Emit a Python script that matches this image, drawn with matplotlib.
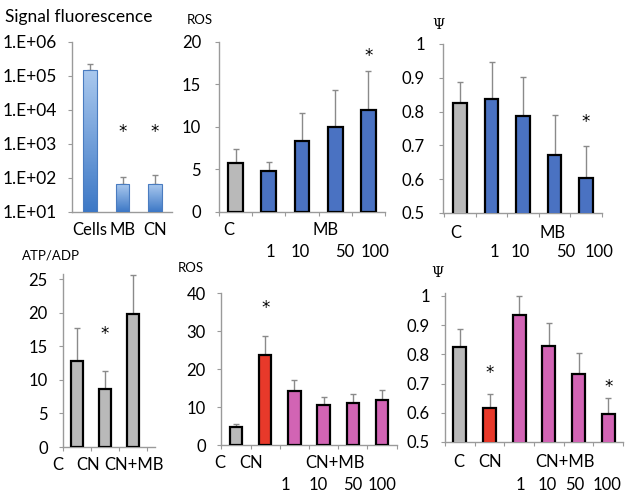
import matplotlib
matplotlib.use("Agg")
import matplotlib.pyplot as plt
import numpy as np
from matplotlib.transforms import blended_transform_factory
from matplotlib.colors import LinearSegmentedColormap

plt.rcParams['font.family'] = ['Lato', 'DejaVu Sans']

# ---------------- data ----------------
p1_cats = ["Cells", "MB", "CN"]
p1_vals = [1.5e5, 65, 65]
p1_err_top = [2.2e5, 110, 120]
p1_star = [None, 2200, 2200]
p1_yticks = [1e1, 1e2, 1e3, 1e4, 1e5, 1e6]
p1_yticklabels = ["1.E+01", "1.E+02", "1.E+03", "1.E+04", "1.E+05", "1.E+06"]

p2_vals = [5.8, 4.8, 8.3, 10.0, 12.0]
p2_err_top = [7.4, 5.9, 11.7, 14.3, 16.6]
p2_star = [None, None, None, None, 18.3]
p2_yticks = [0, 5, 10, 15, 20]

p3_vals = [0.825, 0.838, 0.786, 0.672, 0.604]
p3_err_top = [0.887, 0.948, 0.903, 0.789, 0.697]
p3_star = [None, None, None, None, 0.77]
p3_yticks = [0.5, 0.6, 0.7, 0.8, 0.9, 1.0]
p3_yticklabels = ["0.5", "0.6", "0.7", "0.8", "0.9", "1"]

top_group_labels = ["C", "MB"]
dose_labels = ["1", "10", "50", "100"]

p4_cats = ["C", "CN", "CN+MB"]
p4_vals = [12.8, 8.7, 19.8]
p4_err_top = [17.8, 11.4, 25.6]
p4_star = [None, 16.8, None]
p4_yticks = [0, 5, 10, 15, 20, 25]

p5_vals = [4.7, 23.7, 14.1, 10.5, 11.1, 11.9]
p5_err_top = [5.6, 28.7, 17.1, 12.7, 13.4, 14.4]
p5_star = [None, 36.0, None, None, None, None]
p5_yticks = [0, 10, 20, 30, 40]

p6_vals = [0.826, 0.615, 0.935, 0.829, 0.732, 0.596]
p6_err_top = [0.887, 0.665, 1.0, 0.909, 0.805, 0.652]
p6_star = [None, 0.736, None, None, None, 0.688]
p6_yticks = [0.5, 0.6, 0.7, 0.8, 0.9, 1.0]
p6_yticklabels = ["0.5", "0.6", "0.7", "0.8", "0.9", "1"]

bottom_group_labels = ["C", "CN", "CN+MB"]

# ---------------- style ----------------
W, H = 635, 500
GRAY = "#b9b9b9"
BLUE = "#4a72c2"
PINK = "#d264b4"
RED = "#e8392a"
AXC = "#9a9a9a"
ERRC = "#8a8a8a"
STAR = 12

fig = plt.figure(figsize=(W / 100, H / 100), dpi=100)


def star(ax, x, y):
    ax.text(x, y, "*", ha="center", va="center", fontsize=STAR, family="DejaVu Sans")


def make_ax(left, right, top, bottom):
    ax = fig.add_axes([left / W, 1 - bottom / H, (right - left) / W, (bottom - top) / H])
    for s in ["top", "right"]:
        ax.spines[s].set_visible(False)
    for s in ["left", "bottom"]:
        ax.spines[s].set_color(AXC)
        ax.spines[s].set_linewidth(1.0)
    ax.tick_params(axis="y", colors=AXC, labelcolor="black", length=3, width=0.8,
                   labelsize=11.5, pad=8)
    ax.tick_params(axis="x", colors=AXC, length=3, width=0.8, labelsize=11.5,
                   labelcolor="black", direction="out")
    ax.patch.set_alpha(0)
    return ax


def set_x(ax, n, x0, x1, c0, s):
    ax.set_xlim((x0 - c0) / s, (x1 - c0) / s)
    ax.set_xticks(np.arange(n + 1) - 0.5)
    ax.set_xticklabels([])


def draw(ax, vals, errs, colors, width, stars, ylim):
    x = np.arange(len(vals))
    ax.bar(x, vals, width=width, color=colors, edgecolor="black", linewidth=1.6, zorder=3)
    lo = np.zeros(len(vals))
    up = np.array(errs) - np.array(vals)
    ax.errorbar(x, vals, yerr=[lo, up], fmt="none", ecolor=ERRC, elinewidth=1.0,
                capsize=2.5, capthick=1.0, zorder=2)
    for xi, st in zip(x, stars):
        if st is not None:
            star(ax, xi, st)
    ax.set_ylim(*ylim)


def under(ax, xs, ypix, labels, size=11.5):
    tr = blended_transform_factory(ax.transData, fig.transFigure)
    for xv, lab in zip(xs, labels):
        ax.text(xv, 1 - ypix / H, lab, transform=tr, ha="center", va="center",
                fontsize=size, clip_on=False)


# ---------------- panel 1 ----------------
ax1 = make_ax(72, 172, 42, 212)
ax1.set_yscale("log")
ax1.set_ylim(10, 1e6)
n1 = len(p1_vals)
xl1 = ((72 - 90) / 32.5, (172 - 90) / 32.5)
ax1.set_xlim(*xl1)
ax1.set_xticks([])
x1 = np.arange(n1)
bars = ax1.bar(x1, p1_vals, width=0.43, color="none", edgecolor="#4a7cc0",
               linewidth=0.8, zorder=4)
grad = np.linspace(0, 1, 100).reshape(-1, 1)
cmap = LinearSegmentedColormap.from_list("bl", ["#3d78c6", "#a9c8ee"])
fig.canvas.draw()
to_axes = ax1.transData + ax1.transAxes.inverted()
for b, v in zip(bars, p1_vals):
    xl = b.get_x()
    xr = xl + b.get_width()
    (axl, ayb) = to_axes.transform((xl, 10))
    (axr, ayt) = to_axes.transform((xr, v))
    im = ax1.imshow(grad, cmap=cmap, extent=[axl, axr, 0, ayt], origin="lower",
                    transform=ax1.transAxes, aspect="auto", zorder=3)
    im.set_clip_path(b)
ax1.set_xlim(*xl1)
ax1.set_ylim(10, 1e6)
ax1.errorbar(x1, p1_vals, yerr=[np.zeros(n1), np.array(p1_err_top) - np.array(p1_vals)],
             fmt="none", ecolor=ERRC, elinewidth=1.0, capsize=2.5, capthick=1.0, zorder=2)
for xi, st in zip(x1, p1_star):
    if st is not None:
        star(ax1, xi, st)
ax1.set_yticks(p1_yticks)
ax1.set_yticklabels(p1_yticklabels)
ax1.tick_params(axis="y", which="minor", colors=AXC, length=2, width=0.6)
ax1.tick_params(axis="y", labelsize=12.5, pad=8)
under(ax1, x1, 230, p1_cats, size=12)
fig.text(5 / W, 1 - 17 / H, "Signal fluorescence", fontsize=12.5, va="center", ha="left")

# ---------------- panel 2 ----------------
ax2 = make_ax(219, 385, 42, 212)
set_x(ax2, 5, 219, 385, 236, 34)
draw(ax2, p2_vals, p2_err_top, [GRAY] + [BLUE] * 4, 0.44, p2_star, (0, 20))
ax2.set_yticks(p2_yticks)
ax2.tick_params(axis="y", labelsize=12, pad=10)
under(ax2, [-0.2], 230, top_group_labels[:1], size=12)
under(ax2, [2.7], 230, top_group_labels[1:], size=12)
under(ax2, [1.05, 1.95, 3.3, 4.2], 252, dose_labels, size=12)
fig.text(187 / W, 1 - 20 / H, "ROS", fontsize=9.5, va="center", ha="left")

# ---------------- panel 3 ----------------
ax3 = make_ax(443, 602, 44, 213)
set_x(ax3, 5, 443, 602, 460, 31.5)
draw(ax3, p3_vals, p3_err_top, [GRAY] + [BLUE] * 4, 0.44, p3_star, (0.5, 1.0))
ax3.set_yticks(p3_yticks)
ax3.set_yticklabels(p3_yticklabels)
ax3.tick_params(axis="y", labelsize=12, pad=10)
under(ax3, [-0.15], 233, top_group_labels[:1], size=12)
under(ax3, [2.95], 233, top_group_labels[1:], size=12)
under(ax3, [1.1, 1.9, 3.35, 4.4], 252, dose_labels, size=12)
fig.text(438 / W, 1 - 25 / H, "Ψ", fontsize=10, va="center", ha="center",
         family="DejaVu Serif")

# ---------------- panel 4 ----------------
ax4 = make_ax(63, 155, 274, 447)
set_x(ax4, 3, 63, 155, 77, 28)
draw(ax4, p4_vals, p4_err_top, [GRAY] * 3, 0.43, p4_star, (0, 25.8))
ax4.set_yticks(p4_yticks)
ax4.tick_params(axis="y", labelsize=12, pad=8)
under(ax4, [-0.7, 0.4, 2.05], 465, p4_cats, size=12)
fig.text(22 / W, 1 - 256 / H, "ATP/ADP", fontsize=9.5, va="center", ha="left")

# ---------------- panel 5 ----------------
ax5 = make_ax(221, 397, 293, 445)
set_x(ax5, 6, 221, 397, 236, 29.2)
draw(ax5, p5_vals, p5_err_top, [GRAY, RED] + [PINK] * 4, 0.42, p5_star, (0, 40))
ax5.set_yticks(p5_yticks)
ax5.tick_params(axis="y", labelsize=12, pad=8)
under(ax5, [-0.55, 0.5, 3.4], 463, bottom_group_labels, size=12)
under(ax5, [1.7, 2.8, 4.0, 5.0], 485, dose_labels, size=12)
fig.text(178 / W, 1 - 268 / H, "ROS", fontsize=9.5, va="center", ha="left")

# ---------------- panel 6 ----------------
ax6 = make_ax(445, 623, 293, 442)
set_x(ax6, 6, 445, 623, 459, 30)
draw(ax6, p6_vals, p6_err_top, [GRAY, RED] + [PINK] * 4, 0.43, p6_star, (0.5, 1.01))
ax6.set_yticks(p6_yticks)
ax6.set_yticklabels(p6_yticklabels)
ax6.tick_params(axis="y", labelsize=12, pad=8)
under(ax6, [-0.05, 1.03, 3.53], 462, bottom_group_labels, size=12)
under(ax6, [2.03, 2.93, 3.87, 4.97], 485, dose_labels, size=12)
fig.text(437 / W, 1 - 273 / H, "Ψ", fontsize=10, va="center", ha="center",
         family="DejaVu Serif")

fig.savefig("out.png", dpi=100)
